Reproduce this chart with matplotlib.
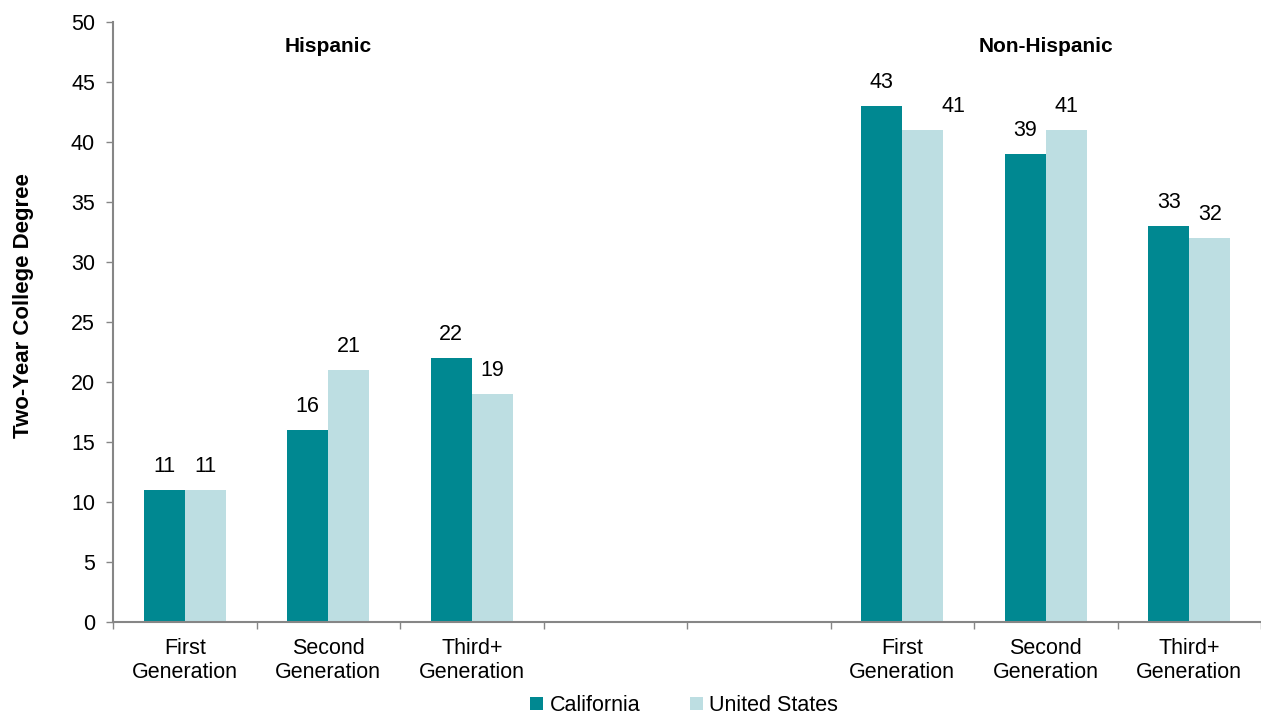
import matplotlib
matplotlib.use('Agg')
import matplotlib.pyplot as plt
import numpy as np

# data
categories = ["First\nGeneration", "Second\nGeneration", "Third+\nGeneration", "", "",
              "First\nGeneration", "Second\nGeneration", "Third+\nGeneration"]
california = [11, 16, 22, None, None, 43, 39, 33]
united_states = [11, 21, 19, None, None, 41, 41, 32]
group_titles = ["Hispanic", "Non-Hispanic"]

TEAL = '#008891'
LIGHT = '#BDDEE2'
AXIS = '#868686'
FS = 15.5

plt.rcParams['font.family'] = ['Liberation Sans', 'DejaVu Sans']

fig = plt.figure(figsize=(12.61, 7.15), dpi=100)
ax = fig.add_axes([113 / 1261, 1 - 622 / 715, 1 - 113 / 1261, 600 / 715])

x = np.arange(len(categories))
w = 1 / 3.5
idx = [i for i, v in enumerate(california) if v is not None]
ca = [california[i] for i in idx]
us = [united_states[i] for i in idx]
xs = x[idx]

b1 = ax.bar(xs - w / 2, ca, w, color=TEAL, label='California')
b2 = ax.bar(xs + w / 2, us, w, color=LIGHT, label='United States')

# value labels
for bars in (b1, b2):
    for i, rect in enumerate(bars):
        h = rect.get_height()
        dx = 0
        # the 41 on the first non-hispanic pair sits off to the right in the original
        if bars is b2 and i == 3:
            dx = 22
        ax.annotate(f"{h:.0f}", (rect.get_x() + rect.get_width() / 2, h),
                    xytext=(dx, 9), textcoords='offset points',
                    ha='center', va='bottom', fontsize=FS)

ax.text(1, 48, group_titles[0], ha='center', va='center', fontsize=15, fontweight='bold')
ax.text(6, 48, group_titles[1], ha='center', va='center', fontsize=15, fontweight='bold')

ax.set_xlim(-0.5, len(categories) - 0.5)
ax.set_ylim(0, 50)
ax.set_yticks(range(0, 51, 5))
ax.set_xticks(x)
ax.set_xticklabels(categories, fontsize=FS)
ax.set_xticks(np.arange(-0.5, len(categories), 1), minor=True)
ax.tick_params(axis='x', which='major', length=0, pad=11.5)
ax.tick_params(axis='x', which='minor', length=5, color=AXIS, width=1)
ax.tick_params(axis='y', labelsize=FS, length=5, color=AXIS, width=1, pad=8)

for s in ('top', 'right'):
    ax.spines[s].set_visible(False)
for s in ('left', 'bottom'):
    ax.spines[s].set_color(AXIS)
    ax.spines[s].set_linewidth(1.5)

ax.set_ylabel("Two-Year College Degree", fontsize=16, fontweight='bold')
ax.yaxis.set_label_coords(-0.069, 0.527)

fig.legend(handles=[b1, b2], loc='center', bbox_to_anchor=(0.5425, 0.013), ncol=2,
           frameon=False, fontsize=FS, handlelength=0.6, handleheight=0.6,
           handletextpad=0.3, columnspacing=2.3, borderpad=0)

fig.savefig('out.png', dpi=100)
plt.close(fig)
